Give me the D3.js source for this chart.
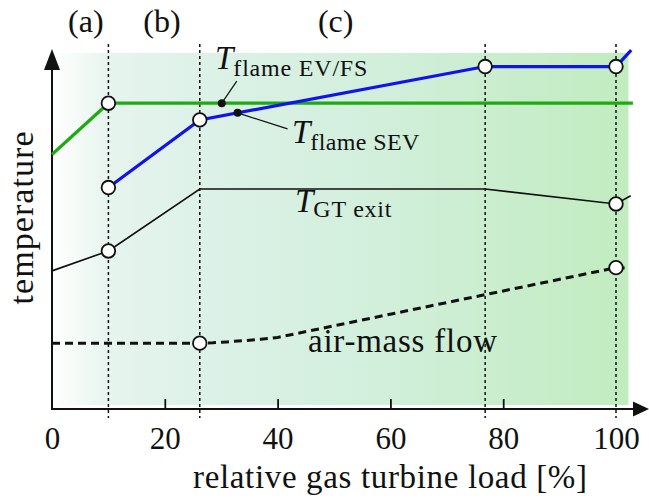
<!DOCTYPE html>
<html><head><meta charset="utf-8">
<script src="https://cdn.jsdelivr.net/npm/d3@7"></script>
<style>body{margin:0;background:#fff}svg{display:block}text{font-family:"Liberation Serif",Tinos,"Times New Roman",Times,serif;fill:#111}</style>
</head><body><svg id="c" width="649" height="498"></svg>
<script>
// ---- data ----
const xTicks = [0, 20, 40, 60, 80, 100];
const phaseLoads = [10, 26.2, 76.8, 100];
const phaseLabels = ["(a)", "(b)", "(c)"];
const phaseLabelLoads = [6.0, 19.5, 50.3];

const flameEvLoads = [0, 10, 103];
const flameEvVals = [71.5, 85.9, 85.9];
const flameEvMarks = [10];

const flameSevLoads = [10, 26.2, 76.8, 100, 102.7];
const flameSevVals = [62.2, 81.2, 96.2, 96.2, 100.8];
const flameSevMarks = [10, 26.2, 76.8, 100];

const gtExitLoads = [0, 10, 26.2, 76.8, 100, 102.6];
const gtExitVals = [38.8, 44.4, 61.8, 61.8, 57.6, 59.9];
const gtExitMarks = [10, 100];

const airLoads = [0, 26.2, 28.5, 31, 34, 37, 40, 100, 102.4];
const airVals = [18.5, 18.5, 18.6, 18.85, 19.2, 19.6, 20.1, 39.7, 39.5];
const airMarks = [26.2, 100];

const annoDotLoads = [30.1, 32.9];

// ---- layout ----
const svg = d3.select("#c");
const x = d3.scaleLinear().domain([0, 100]).range([52, 616]);
const y = d3.scaleLinear().domain([0, 100]).range([409, 53]);
const bandRight = x(102.2);

const defs = svg.append("defs");
const g = defs.append("linearGradient").attr("id", "band").attr("x1", 0).attr("x2", 1).attr("y1", 0).attr("y2", 0);
[[0, "#ffffff"], [0.04, "#f6fbf8"], [0.1, "#e6f4ee"], [0.3, "#dbf1e6"], [0.55, "#d2efdc"], [0.8, "#c9edcc"], [1, "#c1ecbf"]]
  .forEach(([o, c]) => g.append("stop").attr("offset", o).attr("stop-color", c));

svg.append("rect").attr("x", x(0)).attr("y", y(100)).attr("width", bandRight - x(0)).attr("height", y(0) - 4 - y(100)).attr("fill", "url(#band)");

// vertical dotted phase lines
svg.selectAll(".ph").data(phaseLoads).join("line")
  .attr("x1", d => x(d)).attr("x2", d => x(d)).attr("y1", 44).attr("y2", 418)
  .attr("stroke", "#111").attr("stroke-width", 1.5).attr("stroke-dasharray", "3,3");

// axes
const axisG = svg.append("g").attr("transform", `translate(0,${y(0)})`);
const xAxis = d3.axisBottom(x).tickValues(xTicks).tickSize(0).tickPadding(0).tickFormat(d3.format("d"));
axisG.call(xAxis);
axisG.attr("font-family", null);
axisG.select(".domain").remove();
axisG.selectAll(".tick text").attr("y", 40).attr("dy", 0).attr("font-size", 31).attr("fill", "#111");
axisG.selectAll(".tick").filter(d => d > 0 && d < 100).append("line")
  .attr("y1", 0).attr("y2", -10).attr("stroke", "#111").attr("stroke-width", 1.8);

svg.append("line").attr("x1", x(0)).attr("x2", 636).attr("y1", y(0)).attr("y2", y(0)).attr("stroke", "#111").attr("stroke-width", 2);
svg.append("path").attr("d", `M633,${y(0) - 7.5} L649,${y(0)} L633,${y(0) + 7.5} Z`).attr("fill", "#111");
svg.append("line").attr("x1", x(0)).attr("x2", x(0)).attr("y1", y(0) + 1).attr("y2", 66).attr("stroke", "#111").attr("stroke-width", 2);
svg.append("path").attr("d", `M${x(0) - 8},70 L${x(0)},49 L${x(0) + 8},70 Z`).attr("fill", "#111");

// lines
const line = d3.line().x(d => x(d[0])).y(d => y(d[1]));
const zip = (a, b) => a.map((v, i) => [v, b[i]]);
const interp = (loads, vals, l) => { for (let i = 0; i < loads.length - 1; i++) { if (l >= loads[i] && l <= loads[i + 1]) { const t = (l - loads[i]) / (loads[i + 1] - loads[i]); return vals[i] + t * (vals[i + 1] - vals[i]); } } return vals[vals.length - 1]; };

svg.append("path").attr("d", line(zip(gtExitLoads, gtExitVals))).attr("fill", "none").attr("stroke", "#111").attr("stroke-width", 1.6);
svg.append("path").attr("d", line(zip(airLoads, airVals))).attr("fill", "none").attr("stroke", "#111").attr("stroke-width", 3).attr("stroke-dasharray", "8,5");
svg.append("path").attr("d", line(zip(flameEvLoads, flameEvVals))).attr("fill", "none").attr("stroke", "#1faa12").attr("stroke-width", 3.2);
svg.append("path").attr("d", line(zip(flameSevLoads, flameSevVals))).attr("fill", "none").attr("stroke", "#1212ee").attr("stroke-width", 3.2);

// open markers
function marks(loads, vals, ms) {
  svg.selectAll(null).data(ms).join("circle")
    .attr("cx", d => x(d)).attr("cy", d => y(interp(loads, vals, d))).attr("r", 6.8)
    .attr("fill", "#fff").attr("stroke", "#111").attr("stroke-width", 1.8);
}
marks(flameEvLoads, flameEvVals, flameEvMarks);
marks(flameSevLoads, flameSevVals, flameSevMarks);
marks(gtExitLoads, gtExitVals, gtExitMarks);
marks(airLoads, airVals, airMarks);

// annotation dots and leaders
const d1 = [x(annoDotLoads[0]), y(interp(flameEvLoads, flameEvVals, annoDotLoads[0]))];
const d2 = [x(annoDotLoads[1]), y(interp(flameSevLoads, flameSevVals, annoDotLoads[1]))];
svg.append("line").attr("x1", d1[0]).attr("y1", d1[1]).attr("x2", d1[0] + 15).attr("y2", d1[1] - 22).attr("stroke", "#111").attr("stroke-width", 1.2);
svg.append("line").attr("x1", d2[0]).attr("y1", d2[1]).attr("x2", d2[0] + 50).attr("y2", d2[1] + 16).attr("stroke", "#111").attr("stroke-width", 1.2);
svg.selectAll(null).data([d1, d2]).join("circle").attr("cx", d => d[0]).attr("cy", d => d[1]).attr("r", 4).attr("fill", "#111");

// labels with subscripts
function tlabel(tx, ty, sub, dy, subLen) {
  const t = svg.append("text").attr("x", tx).attr("y", ty).attr("font-size", 33);
  t.append("tspan").attr("font-style", "italic").text("T");
  const s = t.append("tspan").attr("font-size", 24).attr("dy", dy).text(sub);
  if (subLen) s.attr("textLength", subLen).attr("lengthAdjust", "spacing");
}
tlabel(215, 69, "flame EV/FS", 7, 134);
tlabel(292, 143, "flame SEV", 7, 109);
tlabel(295, 212, "GT exit", 5, 78);

svg.append("text").attr("x", 308).attr("y", 352).attr("font-size", 33).attr("textLength", 189).attr("lengthAdjust", "spacing").text("air-mass flow");

// phase labels
svg.selectAll(".pl").data(phaseLabels).join("text")
  .attr("x", (d, i) => x(phaseLabelLoads[i])).attr("y", 32).attr("text-anchor", "middle").attr("font-size", 32).text(d => d);

// axis titles
svg.append("text").attr("x", 390).attr("y", 488).attr("text-anchor", "middle").attr("font-size", 33)
  .attr("textLength", 394).attr("lengthAdjust", "spacing").text("relative gas turbine load [%]");
svg.append("text").attr("transform", "translate(33,218) rotate(-90)").attr("text-anchor", "middle").attr("font-size", 34)
  .attr("textLength", 173).attr("lengthAdjust", "spacing").text("temperature");
</script></body></html>
